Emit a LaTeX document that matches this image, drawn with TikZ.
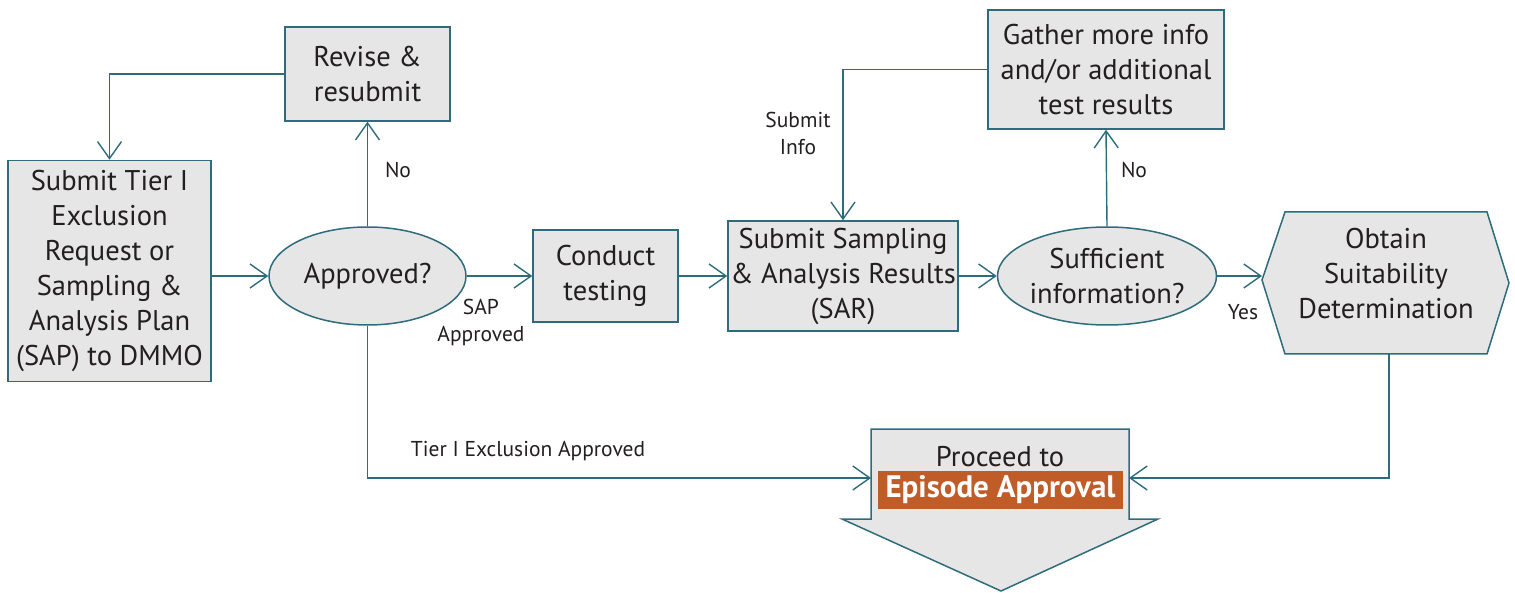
\documentclass[tikz,border=0pt]{standalone}
\usepackage{fontspec}
\setmainfont{PT Sans}
\usetikzlibrary{arrows.meta,shapes.geometric,calc}
\definecolor{tealc}{RGB}{46,108,124}
\definecolor{boxgray}{RGB}{230,230,230}
\definecolor{textc}{RGB}{35,31,32}
\definecolor{orangec}{RGB}{192,92,40}
\begin{document}
\begin{tikzpicture}[x=1pt,y=-1pt,
  box/.style={draw=tealc, fill=boxgray, line width=1.5pt, align=center, inner sep=0pt, text=textc,
    font=\fontsize{28.5}{35}\selectfont},
  ell/.style={box, ellipse},
  lbl/.style={align=center, inner sep=0pt, text=textc, font=\fontsize{21.5}{27}\selectfont},
  big/.style={font=\fontsize{28.5}{35}\selectfont},
  conn/.style={draw=tealc, line width=1.4pt, -{Straight Barb[length=17pt,width=24pt]}},
  shp/.style={draw=tealc, fill=boxgray, line width=1.5pt, line join=miter}
]
\useasboundingbox (0,0) rectangle (1515,593);
% nodes
\node[box, minimum width=203pt, minimum height=221pt] (sub) at (109.5,271)
  {Submit Tier I\\Exclusion\\Request or\\Sampling \&\\Analysis Plan\\(SAP) to DMMO};
\node[box, minimum width=165pt, minimum height=94pt] (rev) at (367.5,74) {Revise \&\\resubmit};
\node[ell, minimum width=197pt, minimum height=98pt] (appr) at (367.5,276) {Approved?};
\node[box, minimum width=145pt, minimum height=92pt] (cond) at (605.5,276) {Conduct\\testing};
\node[box, minimum width=230pt, minimum height=110pt] (sar) at (843,276)
  {Submit Sampling\\\& Analysis Results\\(SAR)};
\node[box, minimum width=236pt, minimum height=119pt] (gath) at (1106,69.5)
  {Gather more info\\and/or additional\\test results};
\node[ell, minimum width=198pt, minimum height=98pt] (suff) at (1107,276) {Sufficient\\information?};
% hexagon
\coordinate (hL) at (1262,280);
\coordinate (hR) at (1509,283);
\coordinate (hB) at (1389,354);
\draw[shp] (1285,212) -- (1487,212) -- (hR) -- (1487,354) -- (1285,354) -- (hL) -- cycle;
\node[lbl, big] (hex) at (1386,274) {Obtain\\Suitability\\Determination};
% proceed arrow
\coordinate (pL) at (871,478);
\coordinate (pR) at (1129,478);
\draw[shp] (871,429) -- (1129,429) -- (1129,519) -- (1158,519) -- (1001,591) -- (842,519) -- (871,519) -- cycle;
\node[lbl, big] (proc) at (1000,457) {Proceed to};
\node[fill=orangec, text=white, inner sep=0pt, minimum width=245pt, minimum height=38pt,
  font=\fontsize{31}{35}\selectfont\bfseries] (epi) at (1000.5,490) {Episode Approval};
% connectors
\draw[conn] (rev.west) -| (sub.north);
\draw[conn] (sub.east |- appr.west) -- (appr.west);
\draw[conn] (appr.north) -- (rev.south);
\draw[conn] (appr.east) -- (cond.west);
\draw[conn] (cond.east) -- (sar.west);
\draw[conn] (gath.west) -| (sar.north);
\draw[conn] (sar.east) -- (suff.west);
\draw[conn] (suff.north) -- (gath.south);
\draw[conn] (suff.east) -- (hL |- suff.east);
\draw[conn] (appr.south) |- (pL);
\draw[conn] (hB) |- (pR);
% labels
\node[lbl] (lno1) at (398,170) {No};
\node[lbl] (lsap) at (481,322) {SAP\\Approved};
\node[lbl] (ltier) at (528,451) {Tier I Exclusion Approved};
\node[lbl] (linfo) at (798,133) {Submit\\Info};
\node[lbl] (lno2) at (1134,170) {No};
\node[lbl] (lyes) at (1243,312) {Yes};
\end{tikzpicture}
\end{document}
